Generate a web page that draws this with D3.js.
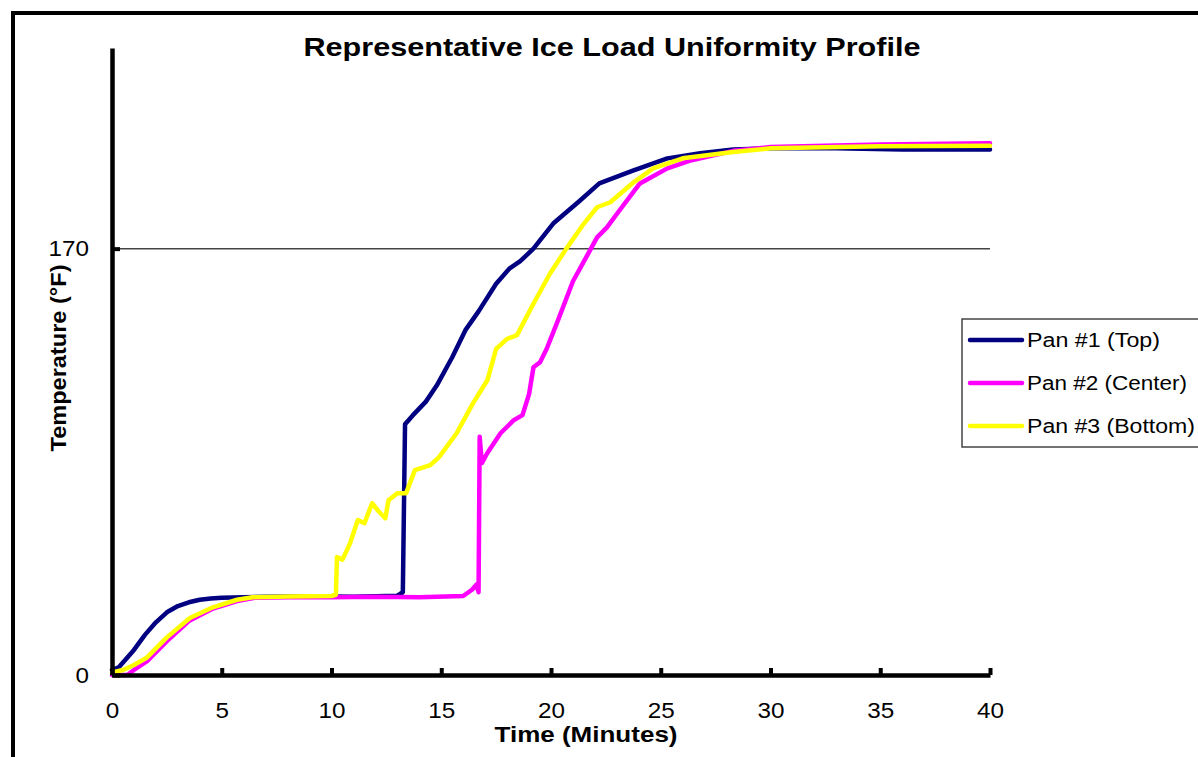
<!DOCTYPE html>
<html>
<head>
<meta charset="utf-8">
<script src="https://cdn.jsdelivr.net/npm/d3@7"></script>
<style>
  body { margin: 0; background: #fff; }
  text { font-family: "Liberation Sans", Arial, sans-serif; fill: #000; }
</style>
</head>
<body>
<div id="chart"></div>
<script>
// readings taken off the chart: time in minutes, temperature in °F
var pan1Time = [0, 0.3, 0.6, 1.0, 1.5, 2.0, 2.5, 3.0, 3.5, 4.0, 4.5, 5.0, 6.0, 7.0, 8, 9, 10, 11, 12, 13, 13.25,
                13.35, 13.7, 14.3, 14.8, 15.5, 16.1, 16.7, 17.5, 18.1, 18.6, 19.2, 20.1, 21.3, 22.2, 23.7, 25.3,
                26.8, 28.3, 30, 33, 36, 40];
var pan1Temp = [2, 3, 6, 10, 16, 21, 25, 27.5, 29, 30, 30.5, 30.8, 31, 31.2, 31.3, 31.2, 31.3, 31.2, 31.4, 31.6, 33,
                100, 103.5, 109, 115.5, 126.7, 137.5, 145, 156, 162, 165, 170, 180, 189, 196, 201, 206,
                208, 209.5, 210, 210, 209.5, 209.5];

var pan2Time = [0, 0.7, 1.0, 1.6, 2.5, 3.5, 4.6, 5.7, 6.5, 8, 10, 12, 14, 16, 16.4, 16.6, 16.7,
                16.75, 16.85, 17.1, 17.7, 18.3, 18.7, 19.0, 19.2, 19.5, 19.8, 20.3, 21.0, 21.6, 22.1, 22.55,
                23.1, 24.05, 25.3, 26.3, 28.3, 30, 35, 40];
var pan2Temp = [0, 0, 2, 5.5, 13.5, 21.5, 26.5, 29.5, 30.8, 31, 31, 31.2, 31, 31.5, 34, 36, 33,
                95, 84.5, 88.5, 96.4, 101.6, 103.6, 112, 122.7, 124.7, 130, 141, 157, 166.5, 174.5, 178.5,
                185, 196, 202, 205, 209, 210.5, 211.5, 212];

var pan3Time = [0, 0.5, 1.0, 1.6, 2.5, 3.55, 4.6, 5.7, 6.4, 8, 10, 10.2, 10.25, 10.5, 10.85, 11.2, 11.5, 11.85,
                12.1, 12.45, 12.6, 13.0, 13.4, 13.8, 14.5, 14.9, 15.7, 16.45, 17.1, 17.5, 18.0, 18.45, 19.2,
                19.95, 20.7, 21.5, 22.1, 22.7, 23.7, 24.65, 26, 28.3, 30, 35, 40];
var pan3Temp = [1, 2, 4, 7, 15, 22.7, 27, 30, 31, 31.3, 31.5, 32, 47, 46, 52.6, 61.8, 60.5, 68.5,
                65.7, 62.5, 69.7, 72.5, 72.5, 81.7, 83.7, 86.9, 96.4, 108.4, 117.5, 130, 134, 135.5, 148,
                160, 170, 180, 186.5, 188.5, 196, 202, 206, 208.5, 210, 210.8, 211];

var seriesNames = ["Pan #1 (Top)", "Pan #2 (Center)", "Pan #3 (Bottom)"];
var seriesColors = ["#000080", "#FF00FF", "#FFFF00"];
var xTicks = [0, 5, 10, 15, 20, 25, 30, 35, 40];
var yTicks = [0, 170];

var width = 1198, height = 757;

var svg = d3.select("#chart").append("svg")
    .attr("width", width)
    .attr("height", height);

// outer frame (only top and left edges show)
svg.append("rect")
    .attr("x", 13).attr("y", 13)
    .attr("width", 1300).attr("height", 900)
    .attr("fill", "none")
    .attr("stroke", "#000")
    .attr("stroke-width", 4);

var x = d3.scaleLinear().domain([0, 40]).range([112, 990]);
var y = d3.scaleLinear().domain([0, 250]).range([675, 48]);

// reference line at 170
svg.append("line")
    .attr("x1", x(0)).attr("x2", x(40))
    .attr("y1", y(170)).attr("y2", y(170))
    .attr("stroke", "#444")
    .attr("stroke-width", 1.5);

var series = [
    { name: seriesNames[0], color: seriesColors[0], data: pan1Time.map(function(t, i) { return [t, pan1Temp[i]]; }) },
    { name: seriesNames[1], color: seriesColors[1], data: pan2Time.map(function(t, i) { return [t, pan2Temp[i]]; }) },
    { name: seriesNames[2], color: seriesColors[2], data: pan3Time.map(function(t, i) { return [t, pan3Temp[i]]; }) }
];

var line = d3.line()
    .x(function(d) { return x(d[0]); })
    .y(function(d) { return y(d[1]); });

svg.selectAll(".series")
    .data(series)
  .enter().append("path")
    .attr("class", "series")
    .attr("d", function(d) { return line(d.data); })
    .attr("fill", "none")
    .attr("stroke", function(d) { return d.color; })
    .attr("stroke-width", 4.5)
    .attr("stroke-linejoin", "round")
    .attr("stroke-linecap", "round");

// x axis
var xAxis = svg.append("g")
    .attr("transform", "translate(0," + y(0) + ")")
    .call(d3.axisBottom(x).tickValues(xTicks).tickSize(-7).tickSizeOuter(0).tickPadding(27));
xAxis.select(".domain").attr("stroke-width", 4.5);
xAxis.selectAll(".tick line").attr("stroke-width", 4);
xAxis.selectAll(".tick text")
    .style("font-size", "22px")
    .attr("textLength", function(d) { return String(d).length * 13.5; })
    .attr("lengthAdjust", "spacingAndGlyphs");

// y axis
var yAxis = svg.append("g")
    .attr("transform", "translate(" + x(0) + ",0)")
    .call(d3.axisLeft(y).tickValues(yTicks).tickSize(-8).tickSizeOuter(0).tickPadding(23));
yAxis.select(".domain").attr("stroke-width", 4.5);
yAxis.selectAll(".tick line").attr("stroke-width", 4);
yAxis.selectAll(".tick text")
    .style("font-size", "22px")
    .attr("textLength", function(d) { return String(d).length * 13.5; })
    .attr("lengthAdjust", "spacingAndGlyphs");

// title
svg.append("text")
    .attr("x", 612).attr("y", 56)
    .attr("text-anchor", "middle")
    .style("font-size", "26px")
    .style("font-weight", "bold")
    .attr("textLength", 617)
    .attr("lengthAdjust", "spacingAndGlyphs")
    .text("Representative Ice Load Uniformity Profile");

// axis titles
svg.append("text")
    .attr("x", 586).attr("y", 742)
    .attr("text-anchor", "middle")
    .style("font-size", "22px")
    .style("font-weight", "bold")
    .attr("textLength", 183)
    .attr("lengthAdjust", "spacingAndGlyphs")
    .text("Time (Minutes)");

svg.append("text")
    .attr("transform", "translate(66,358) rotate(-90)")
    .attr("text-anchor", "middle")
    .style("font-size", "22px")
    .style("font-weight", "bold")
    .attr("textLength", 187)
    .attr("lengthAdjust", "spacingAndGlyphs")
    .text("Temperature (°F)");

// legend
var legend = svg.append("g").attr("transform", "translate(962,319)");
legend.append("rect")
    .attr("x", 0).attr("y", 0)
    .attr("width", 260).attr("height", 128)
    .attr("fill", "#fff")
    .attr("stroke", "#444")
    .attr("stroke-width", 1.5);

var item = legend.selectAll(".item")
    .data(series)
  .enter().append("g")
    .attr("class", "item")
    .attr("transform", function(d, i) { return "translate(0," + (21 + i * 43) + ")"; });

item.append("line")
    .attr("x1", 8).attr("x2", 60)
    .attr("stroke", function(d) { return d.color; })
    .attr("stroke-width", 4.5)
    .attr("stroke-linecap", "round");

item.append("text")
    .attr("x", 65).attr("dy", "0.36em")
    .style("font-size", "20px")
    .attr("textLength", function(d, i) { return [133, 160, 168][i]; })
    .attr("lengthAdjust", "spacingAndGlyphs")
    .text(function(d) { return d.name; });
</script>
</body>
</html>
